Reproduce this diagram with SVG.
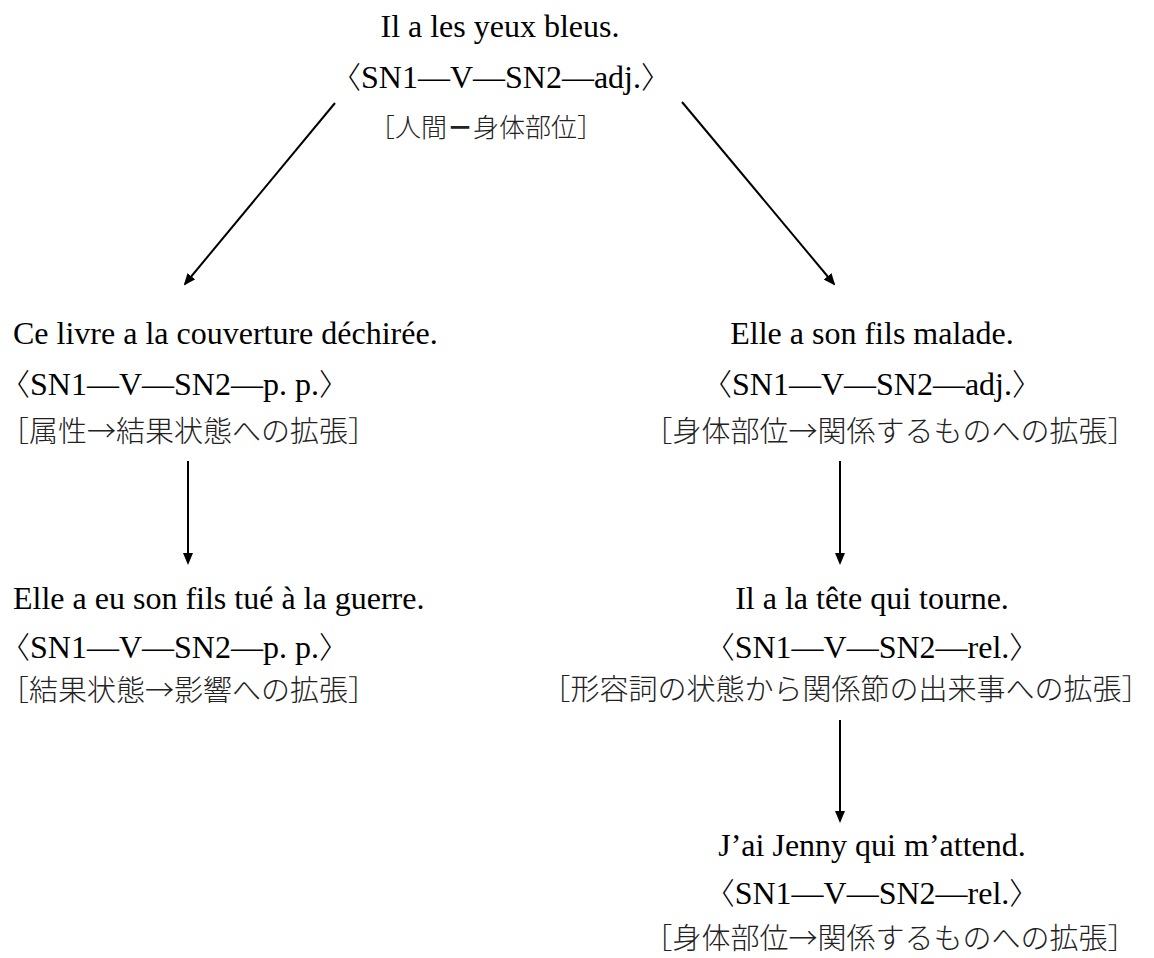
<svg xmlns="http://www.w3.org/2000/svg" width="1154" height="958" viewBox="0 0 1154 958">
<defs>
<marker id="ah" viewBox="0 0 12 10" refX="10" refY="5" markerWidth="12" markerHeight="10" markerUnits="userSpaceOnUse" orient="auto"><path d="M0,0 L12,5 L0,10 z" fill="#000"/></marker>
<style>
.fr{font-family:"Liberation Serif","DejaVu Serif","Noto Sans CJK JP",serif;font-size:32px;fill:#000}
.ab{font-family:"Noto Sans CJK JP",sans-serif;font-weight:300;font-size:30px}
.jp{font-family:"Noto Sans CJK JP",sans-serif;font-size:29px;font-weight:300;fill:#222}
.jps{font-size:26px}
.b{font-weight:700}
.c{text-anchor:middle}
.ln{stroke:#000;stroke-width:2;fill:none;marker-end:url(#ah)}
</style>
</defs>
<rect width="1154" height="958" fill="#fff"/>
<g id="connectors">
<line class="ln" x1="335" y1="103" x2="185" y2="284"/>
<line class="ln" x1="682" y1="102" x2="834" y2="284"/>
<line class="ln" x1="188" y1="461" x2="188" y2="563"/>
<line class="ln" x1="840" y1="461" x2="840" y2="563"/>
<line class="ln" x1="840" y1="720" x2="840" y2="821"/>
</g>
<g id="n-root">
<text class="fr c" x="500" y="37">Il a les yeux bleus.</text>
<text class="fr c" x="501" y="88"><tspan class="ab">〈</tspan>SN1—V—SN2—adj.<tspan class="ab">〉</tspan></text>
<text class="jp jps c" x="486" y="137">［人間<tspan class="b">－</tspan>身体部位］</text>
</g>
<g id="n-livre">
<text class="fr" x="13" y="344">Ce livre a la couverture déchirée.</text>
<text class="fr" x="0" y="395"><tspan class="ab">〈</tspan>SN1—V—SN2—p. p.<tspan class="ab">〉</tspan></text>
<text class="jp" x="0" y="442">［属性→結果状態への拡張］</text>
</g>
<g id="n-elle-malade">
<text class="fr c" x="872" y="344">Elle a son fils malade.</text>
<text class="fr c" x="872" y="395"><tspan class="ab">〈</tspan>SN1—V—SN2—adj.<tspan class="ab">〉</tspan></text>
<text class="jp c" x="890" y="442">［身体部位→関係するものへの拡張］</text>
</g>
<g id="n-elle-tue">
<text class="fr" x="13" y="609">Elle a eu son fils tué à la guerre.</text>
<text class="fr" x="0" y="658"><tspan class="ab">〈</tspan>SN1—V—SN2—p. p.<tspan class="ab">〉</tspan></text>
<text class="jp" x="0" y="701">［結果状態→影響への拡張］</text>
</g>
<g id="n-tete">
<text class="fr c" x="872" y="609">Il a la tête qui tourne.</text>
<text class="fr c" x="872" y="658"><tspan class="ab">〈</tspan>SN1—V—SN2—rel.<tspan class="ab">〉</tspan></text>
<text class="jp c" x="846" y="700">［形容詞の状態から関係節の出来事への拡張］</text>
</g>
<g id="n-jenny">
<text class="fr c" x="872" y="856">J’ai Jenny qui m’attend.</text>
<text class="fr c" x="872" y="904"><tspan class="ab">〈</tspan>SN1—V—SN2—rel.<tspan class="ab">〉</tspan></text>
<text class="jp c" x="890" y="949">［身体部位→関係するものへの拡張］</text>
</g>
</svg>
